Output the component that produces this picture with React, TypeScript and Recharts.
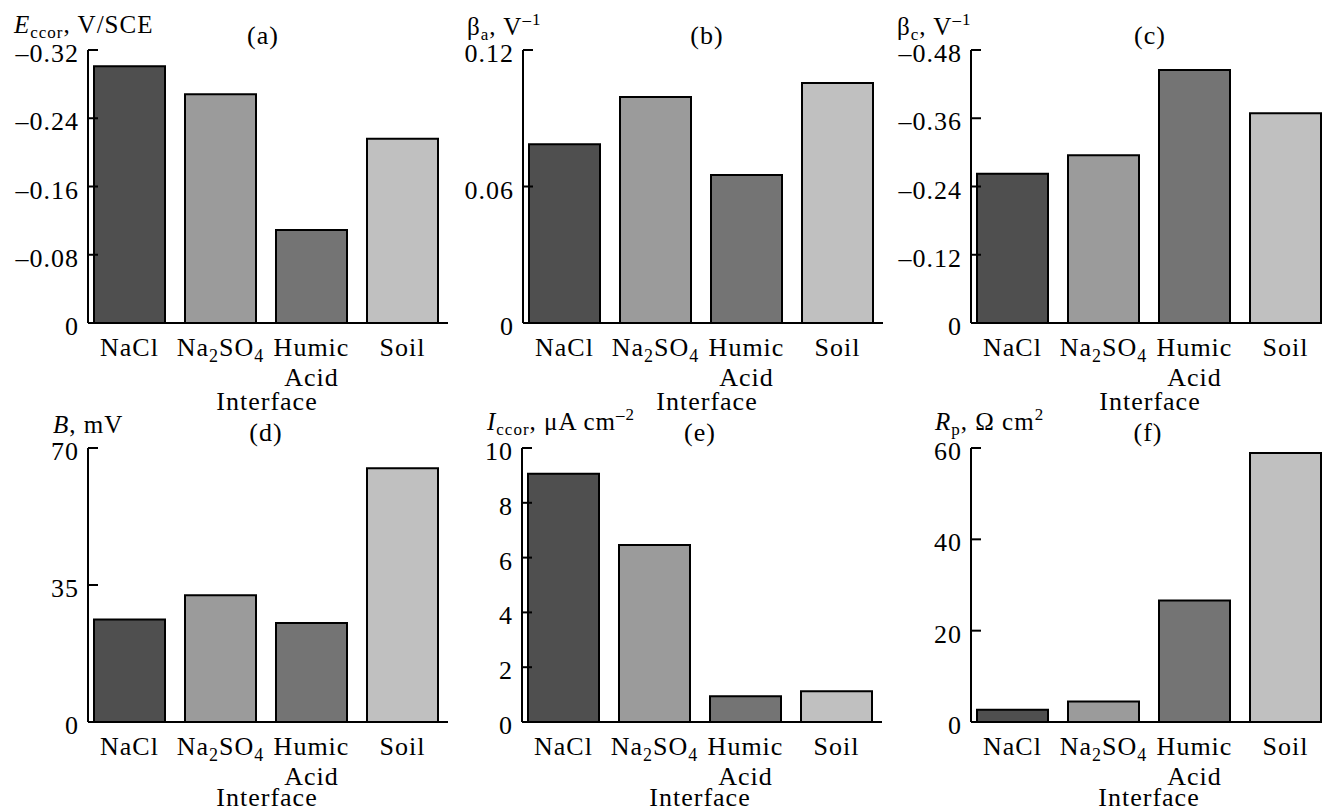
import React from 'react'
import { BarChart, Bar, XAxis, YAxis, Cell } from 'recharts'

const FONT = '"Liberation Serif", "Times New Roman", serif'

const categories = ['NaCl', 'Na2SO4', 'Humic Acid', 'Soil']
const barColors = ['#4f4f4f', '#9b9b9b', '#747474', '#c0c0c0']

// values
const eCorr = [-0.301, -0.268, -0.109, -0.216]
const betaA = [0.0786, 0.0993, 0.0651, 0.1055]
const betaC = [-0.2625, -0.295, -0.445, -0.369]
const bValues = [26.2, 32.4, 25.3, 64.8]
const iCorr = [9.06, 6.46, 0.94, 1.12]
const rP = [2.7, 4.5, 26.6, 58.9]

const eCorrTicks = [-0.32, -0.24, -0.16, -0.08, 0]
const betaATicks = [0, 0.06, 0.12]
const betaCTicks = [-0.48, -0.36, -0.24, -0.12, 0]
const bTicks = [0, 35, 70]
const iCorrTicks = [0, 2, 4, 6, 8, 10]
const rPTicks = [0, 20, 40, 60]

const fmtSigned = (v: number) => (v === 0 ? '0' : (v < 0 ? '–' : '') + Math.abs(v).toFixed(2))
const fmtInt = (v: number) => String(v)

const txt = { fontSize: 26, fontFamily: FONT, fill: '#000', letterSpacing: 1 }

const XTick = (props: any) => {
  const { x, y, payload } = props
  const common = { ...txt, textAnchor: 'middle' as const }
  if (payload.value === 'Na2SO4') {
    return (
      <text x={x} y={y + 33} {...common}>
        Na<tspan fontSize={18} dy={6}>2</tspan>
        <tspan dy={-6}>SO</tspan>
        <tspan fontSize={18} dy={6}>4</tspan>
      </text>
    )
  }
  if (payload.value === 'Humic Acid') {
    return (
      <g>
        <text x={x} y={y + 33} {...common}>Humic</text>
        <text x={x} y={y + 63} {...common}>Acid</text>
      </g>
    )
  }
  return <text x={x} y={y + 33} {...common}>{payload.value}</text>
}

const makeYTick = (fmt: (v: number) => string) => (props: any) => {
  const { x, y, payload } = props
  return (
    <text x={x} y={y} dy={12} textAnchor="end" {...txt}>
      {fmt(payload.value)}
    </text>
  )
}

type PanelProps = {
  values: number[]
  ticks: number[]
  fmt: (v: number) => string
  left: number
  top: number
  marginTop: number
  plotHeight: number
  reversed?: boolean
}

function Panel({ values, ticks, fmt, left, top, marginTop, plotHeight, reversed }: PanelProps) {
  const data = categories.map((name, i) => ({ name, value: values[i] }))
  const domain = [Math.min(...ticks), Math.max(...ticks)]
  return (
    <div style={{ position: 'absolute', left, top }}>
      <BarChart
        width={440}
        height={marginTop + plotHeight + 85}
        data={data}
        margin={{ top: marginTop, right: 0, bottom: 0, left: 0 }}
      >
        <XAxis
          dataKey="name"
          interval={0}
          tickLine={false}
          tickSize={0}
          tickMargin={0}
          height={85}
          padding={{ left: -4, right: 0 }}
          axisLine={{ stroke: '#000', strokeWidth: 2 }}
          tick={<XTick />}
        />
        <YAxis
          type="number"
          width={80}
          domain={domain}
          ticks={ticks}
          reversed={reversed}
          tickSize={-10}
          tickMargin={19}
          tickLine={{ stroke: '#000', strokeWidth: 2 }}
          axisLine={{ stroke: '#000', strokeWidth: 2 }}
          tick={makeYTick(fmt)}
        />
        <Bar dataKey="value" barSize={71} stroke="#000" strokeWidth={2} isAnimationActive={false}>
          {data.map((d, i) => (
            <Cell key={d.name} fill={barColors[i]} />
          ))}
        </Bar>
      </BarChart>
    </div>
  )
}

const labelStyle = { fontFamily: FONT, fontSize: 25, fill: '#000', letterSpacing: 1 }

export default function App() {
  return (
    <div
      style={{
        position: 'absolute',
        left: 0,
        top: 0,
        width: 1322,
        height: 809,
        overflow: 'hidden',
        background: '#fff',
      }}
    >
      <Panel values={eCorr} ticks={eCorrTicks} fmt={fmtSigned} left={8} top={0} marginTop={50} plotHeight={273} reversed />
      <Panel values={betaA} ticks={betaATicks} fmt={fmtSigned} left={442.7} top={0} marginTop={50} plotHeight={273} />
      <Panel values={betaC} ticks={betaCTicks} fmt={fmtSigned} left={890.7} top={0} marginTop={50} plotHeight={273} reversed />
      <Panel values={bValues} ticks={bTicks} fmt={fmtInt} left={8} top={400} marginTop={48} plotHeight={274} />
      <Panel values={iCorr} ticks={iCorrTicks} fmt={fmtInt} left={441.7} top={400} marginTop={48} plotHeight={274} />
      <Panel values={rP} ticks={rPTicks} fmt={fmtInt} left={890.7} top={400} marginTop={48} plotHeight={274} />

      <svg width={1322} height={809} style={{ position: 'absolute', left: 0, top: 0, pointerEvents: 'none' }}>
        <g {...labelStyle}>
          <text x={14} y={33}>
            <tspan fontStyle="italic">E</tspan>
            <tspan fontSize={17} dy={5}>ccor</tspan>
            <tspan dy={-5}>, V/SCE</tspan>
          </text>
          <text x={467} y={35}>
            β<tspan fontSize={17} dy={5}>a</tspan>
            <tspan dy={-5}>, V</tspan>
            <tspan fontSize={17} dy={-10}>–1</tspan>
          </text>
          <text x={897} y={35}>
            β<tspan fontSize={17} dy={5}>c</tspan>
            <tspan dy={-5}>, V</tspan>
            <tspan fontSize={17} dy={-10}>–1</tspan>
          </text>
          <text x={53} y={433}>
            <tspan fontStyle="italic">B</tspan>, mV
          </text>
          <text x={487} y={430}>
            <tspan fontStyle="italic">I</tspan>
            <tspan fontSize={17} dy={5}>ccor</tspan>
            <tspan dy={-5}>, μA cm</tspan>
            <tspan fontSize={17} dy={-10}>–2</tspan>
          </text>
          <text x={935} y={430}>
            <tspan fontStyle="italic">R</tspan>
            <tspan fontSize={17} dy={5}>p</tspan>
            <tspan dy={-5}>, Ω cm</tspan>
            <tspan fontSize={17} dy={-10}>2</tspan>
          </text>

          <text x={263} y={44} textAnchor="middle" fontSize={26}>(a)</text>
          <text x={707} y={44} textAnchor="middle" fontSize={26}>(b)</text>
          <text x={1150} y={44} textAnchor="middle" fontSize={26}>(c)</text>
          <text x={266} y={441} textAnchor="middle" fontSize={26}>(d)</text>
          <text x={700} y={441} textAnchor="middle" fontSize={26}>(e)</text>
          <text x={1148} y={441} textAnchor="middle" fontSize={26}>(f)</text>

          <text x={267} y={410} textAnchor="middle" fontSize={26}>Interface</text>
          <text x={707} y={410} textAnchor="middle" fontSize={26}>Interface</text>
          <text x={1150} y={410} textAnchor="middle" fontSize={26}>Interface</text>
          <text x={267} y={806} textAnchor="middle" fontSize={26}>Interface</text>
          <text x={700} y={806} textAnchor="middle" fontSize={26}>Interface</text>
          <text x={1149} y={806} textAnchor="middle" fontSize={26}>Interface</text>
        </g>
      </svg>
    </div>
  )
}
